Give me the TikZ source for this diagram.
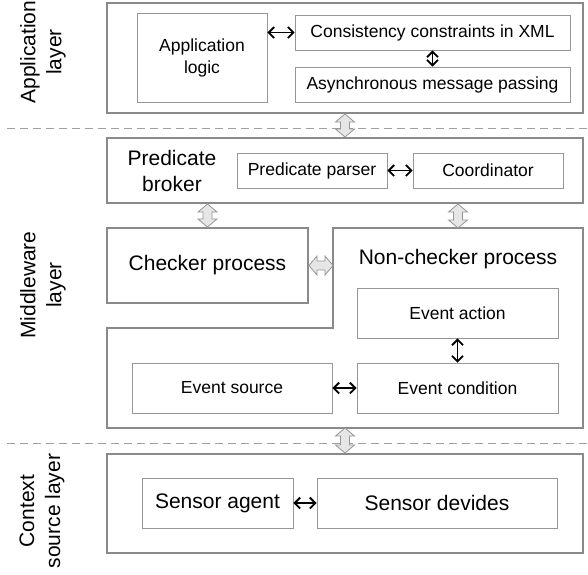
\documentclass[tikz,border=0pt]{standalone}
\usepackage{fontspec}
\setmainfont{Liberation Sans}
\usetikzlibrary{arrows.meta,calc}
\definecolor{outerc}{RGB}{138,138,138}
\definecolor{innerc}{RGB}{150,150,150}
\definecolor{blockfill}{RGB}{230,230,230}
\definecolor{dashc}{RGB}{160,160,160}
\tikzset{
 outerbox/.style={draw=outerc, line width=2pt, rectangle, inner sep=0pt},
 innerbox/.style={draw=innerc, line width=0.9pt, rectangle, inner sep=0pt, font=\fontsize{17.5}{22}\selectfont, align=center},
 bigtext/.style={font=\fontsize{21}{26}\selectfont, align=center, inner sep=0pt},
 sidelabel/.style={bigtext, rotate=90},
 biarrow/.style={{Straight Barb[length=5.5pt,width=11pt]}-{Straight Barb[length=5.5pt,width=11pt]}, line width=1.8pt, black},
 blockarr/.style={draw=innerc, fill=blockfill, line width=0.8pt},
 layersep/.style={draw=dashc, line width=1pt, dash pattern=on 8pt off 5pt},
}
\newcommand\vblockarrow[2]{%
 \path[blockarr] let \p1=#1, \p2=#2 in
 (\x1,\y1) -- (\x1+9.5pt,\y1-8pt) -- (\x1+4.5pt,\y1-8pt) -- (\x1+4.5pt,\y2+8pt) -- (\x1+9.5pt,\y2+8pt) -- (\x1,\y2) -- (\x1-9.5pt,\y2+8pt) -- (\x1-4.5pt,\y2+8pt) -- (\x1-4.5pt,\y1-8pt) -- (\x1-9.5pt,\y1-8pt) -- cycle;}
\newcommand\hblockarrow[2]{%
 \path[blockarr] let \p1=#1, \p2=#2 in
 (\x1,\y1) -- (\x1+8pt,\y1+9.5pt) -- (\x1+8pt,\y1+4.5pt) -- (\x2-8pt,\y1+4.5pt) -- (\x2-8pt,\y1+9.5pt) -- (\x2,\y1) -- (\x2-8pt,\y1-9.5pt) -- (\x2-8pt,\y1-4.5pt) -- (\x1+8pt,\y1-4.5pt) -- (\x1+8pt,\y1-9.5pt) -- cycle;}
\begin{document}
\begin{tikzpicture}[x=1pt,y=-1pt]
\useasboundingbox (0,0) rectangle (588,574);
% layer separators
\coordinate (sep1l) at (7,128);
\coordinate (sep1r) at (588,128);
\coordinate (sep2l) at (7,443);
\coordinate (sep2r) at (588,443);
\draw[layersep] (sep1l) -- (sep1r);
\draw[layersep] (sep2l) -- (sep2r);
% side labels
\node[sidelabel] (lapp) at (43,52) {Application\\layer};
\node[sidelabel] (lmid) at (43,285) {Middleware\\layer};
\node[sidelabel] (lctx) at (42,511) {Context\\source layer};
% application layer
\node[outerbox, minimum width=476pt, minimum height=110pt] (app) at (345,58) {};
\node[innerbox, minimum width=130pt, minimum height=89pt] (applogic) at (202,57.5) {Application\\logic};
\node[innerbox, minimum width=275pt, minimum height=35pt] (cons) at (432.5,32.5) {Consistency constraints in XML};
\node[innerbox, minimum width=275pt, minimum height=35pt] (async) at (432.5,84.5) {Asynchronous message passing};
\draw[biarrow] (cons.west -| applogic.east) -- (cons.west);
\draw[biarrow] (cons.south) -- (async.north);
% predicate broker
\node[outerbox, minimum width=476pt, minimum height=65pt] (broker) at (345,170.5) {};
\node[bigtext] (brokerlbl) at (172,171) {Predicate\\broker};
\node[innerbox, minimum width=150pt, minimum height=35pt] (pparser) at (312,170.5) {Predicate parser};
\node[innerbox, minimum width=150pt, minimum height=35pt] (coord) at (488,170.5) {Coordinator};
\draw[biarrow] (pparser.east) -- (coord.west);
% checker process
\node[outerbox, minimum width=201pt, minimum height=75pt, font=\fontsize{21}{26}\selectfont] (checker) at (207.5,265.5) {Checker process};
% non-checker process
\coordinate (nctop) at (458,228);
\coordinate (ncleft) at (333,265.5);
\coordinate (ncbottom) at (345,428);
\draw[draw=outerc, line width=2pt] (333,228) -- (583,228) -- (583,428) -- (107,428) -- (107,328) -- (333,328) -- cycle;
\node[bigtext] (nclbl) at (458,259) {Non-checker process};
\node[innerbox, minimum width=201pt, minimum height=50pt] (evaction) at (457.5,313) {Event action};
\node[innerbox, minimum width=201pt, minimum height=50pt] (evcond) at (457.5,388) {Event condition};
\node[innerbox, minimum width=200pt, minimum height=50pt] (evsource) at (232,388) {Event source};
\draw[biarrow] (evaction.south) -- (evcond.north);
\draw[biarrow] (evsource.east) -- (evcond.west);
% context source layer
\node[outerbox, minimum width=476pt, minimum height=99pt] (context) at (345,503.5) {};
\node[innerbox, minimum width=151pt, minimum height=50pt, font=\fontsize{21}{26}\selectfont] (sagent) at (217.5,503) {Sensor agent};
\node[innerbox, minimum width=240pt, minimum height=50pt, font=\fontsize{21}{26}\selectfont] (sdev) at (437,503) {Sensor devides};
\draw[biarrow] (sagent.east) -- (sdev.west);
% block arrows between layers / components
\vblockarrow{(app.south)}{(broker.north)}
\vblockarrow{(checker.north |- broker.south)}{(checker.north)}
\vblockarrow{(nctop |- broker.south)}{(nctop)}
\hblockarrow{(checker.east)}{(ncleft)}
\vblockarrow{(ncbottom)}{(context.north)}
\end{tikzpicture}
\end{document}
